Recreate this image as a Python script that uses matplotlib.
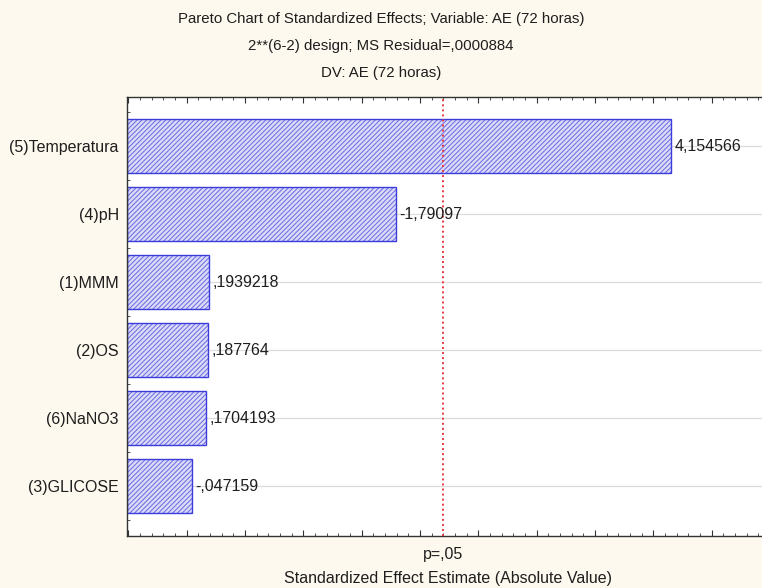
import matplotlib
matplotlib.use('Agg')
import matplotlib.pyplot as plt
from matplotlib.ticker import MultipleLocator, NullFormatter
import matplotlib.transforms as mtransforms
import numpy as np

plt.rcParams['font.family'] = ['Liberation Sans', 'DejaVu Sans']
plt.rcParams['hatch.linewidth'] = 0.8

# data
factors = ['(5)Temperatura', '(4)pH', '(1)MMM', '(2)OS', '(6)NaNO3', '(3)GLICOSE']
effects = [4.154566, -1.79097, 0.1939218, 0.187764, 0.1704193, -0.047159]
effect_labels = ['4,154566', '-1,79097', ',1939218', ',187764', ',1704193', '-,047159']
p_crit = 2.201

titles = ['Pareto Chart of Standardized Effects; Variable: AE (72 horas)',
          '2**(6-2) design; MS Residual=,0000884',
          'DV: AE (72 horas)']

bg = '#fdf9ee'
txt = '#1e1e1e'
fs = 11.5

fig = plt.figure(figsize=(7.62, 5.88), dpi=100, facecolor=bg)
W, H = 762, 588
ax_l, ax_r, ax_t, ax_b = 127, 769, 96.5, 536
ax = fig.add_axes([ax_l / W, 1 - ax_b / H, (ax_r - ax_l) / W, (ax_b - ax_t) / H])
ax.set_facecolor('white')

xmin, xmax = -0.51, 4.99
ypos = np.arange(len(factors))
absval = np.abs(effects)

# horizontal grid lines behind the bars
for y in ypos:
    ax.axhline(y, color='#dcdcdc', lw=0.9, zorder=0)

# bars start from the left edge of the plot, as in Statistica
ax.barh(ypos, absval - xmin, left=xmin, height=0.79,
        color='#dcdcf8', edgecolor='#7474e4', hatch='///////', lw=0, zorder=2)
ax.barh(ypos, absval - xmin, left=xmin, height=0.79,
        color='none', edgecolor='#3c3cdc', lw=1.0, zorder=2.5)

for y, v, s in zip(ypos, absval, effect_labels):
    ax.annotate(s, (v, y), xytext=(2.5, 0), textcoords='offset points',
                ha='left', va='center', fontsize=fs, color=txt, zorder=4)

ax.axvline(p_crit, color='#e8383f', lw=1.4, ls=(0, (1, 1.6)), zorder=3)
trans = mtransforms.blended_transform_factory(ax.transData, ax.transAxes)
ax.text(p_crit, -(555 - ax_b) / (ax_b - ax_t), 'p=,05', transform=trans,
        ha='center', va='center', fontsize=fs, color=txt)
ax.text(0.5, -(579 - ax_b) / (ax_b - ax_t), 'Standardized Effect Estimate (Absolute Value)',
        transform=ax.transAxes, ha='center', va='center', fontsize=fs, color=txt)

ax.set_xlim(xmin, xmax)
ax.set_ylim(5.73, -0.73)

ax.set_yticks(ypos)
ax.set_yticklabels(factors, fontsize=fs, color=txt)
ax.yaxis.set_minor_locator(MultipleLocator(0.25))
ax.tick_params(axis='y', which='major', direction='in', length=3, pad=6, colors='#333333', labelcolor=txt)
ax.tick_params(axis='y', which='minor', direction='in', length=2, colors='#333333')

ax.xaxis.set_major_locator(MultipleLocator(0.5))
ax.xaxis.set_minor_locator(MultipleLocator(0.1))
ax.xaxis.set_major_formatter(NullFormatter())
ax.tick_params(axis='x', which='major', direction='in', length=4, top=True, colors='#333333')
ax.tick_params(axis='x', which='minor', direction='in', length=2, top=True, colors='#333333')

for sp in ax.spines.values():
    sp.set_color('#333333')
    sp.set_linewidth(1.0)

for i, t in enumerate(titles):
    fig.text(0.5, 1 - (19 + 27 * i) / H, t, ha='center', va='center', fontsize=10.8, color=txt)

fig.savefig('out.png', dpi=100, facecolor=bg)
